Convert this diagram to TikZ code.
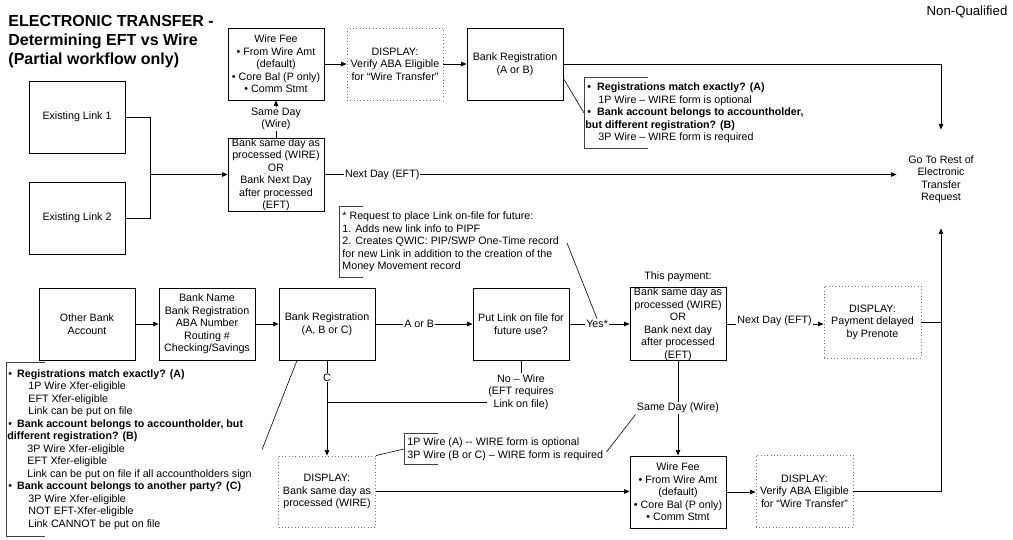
\documentclass[tikz,border=0pt]{standalone}
\usepackage{fontspec}
\setmainfont{Liberation Sans}
\usetikzlibrary{arrows.meta}
\newcommand\mybody{\fontsize{10.7}{12.5}\selectfont}
\begin{document}
\begin{tikzpicture}[x=1pt,y=-1pt,
  line width=0.85pt,
  >={Triangle[length=5.5pt,width=4.5pt]},
  box/.style={draw, line width=0.85pt, minimum width=96pt, minimum height=72pt, inner sep=0.5pt, align=center, font=\mybody},
  dbox/.style={box, draw=black!55, dash pattern=on 0.7pt off 2.6pt},
  lbl/.style={fill=white, inner sep=1pt, align=center, font=\mybody},
  note/.style={anchor=west, align=left, inner xsep=0pt, inner ysep=0pt, font=\mybody},
  brk/.style={draw=black!75, line width=0.9pt},
  call/.style={line width=0.6pt}
]
\useasboundingbox (0,0) rectangle (1013,540);

% titles
\node[anchor=north west, align=left, inner sep=0, font=\fontsize{16}{19}\selectfont\bfseries] (title) at (8,15) {ELECTRONIC TRANSFER -\\Determining EFT vs Wire\\(Partial workflow only)};
\node[font=\fontsize{13.2}{15}\selectfont, inner sep=0] (nq) at (967,12) {Non-Qualified};

% top part
\node[box] (link1) at (77,117) {Existing Link 1};
\node[box] (link2) at (77,218) {Existing Link 2};
\node[box, minimum height=73pt, inner sep=0pt] (bsd) at (276,174.5) {Bank same day as\\processed (WIRE)\\OR\\Bank Next Day\\after processed\\(EFT)};
\node[box] (wft) at (276,64) {Wire Fee\\• From Wire Amt\\(default)\\• Core Bal (P only)\\• Comm Stmt};
\node[dbox] (dvt) at (395,64) {DISPLAY:\\Verify ABA Eligible\\for “Wire Transfer”};
\node[box] (brt) at (515,64) {Bank Registration\\(A or B)};
\node[font=\mybody, align=center, minimum width=88pt, minimum height=98pt, inner sep=0] (goto) at (941,179) {Go To Rest of\\Electronic\\Transfer\\Request};

\node[note, minimum height=70pt] (n1) at (584,113) {%
\hspace*{3pt}•\hspace{6pt}\textbf{Registrations match exactly? (A)}\\
\hspace*{14pt}1P Wire – WIRE form is optional\\
\hspace*{3pt}•\hspace{6pt}\textbf{Bank account belongs to accountholder,}\\
\hspace*{1pt}\textbf{but different registration? (B)}\\
\hspace*{14pt}3P Wire – WIRE form is required};

% middle row
\node[box] (oba) at (87,324) {Other Bank\\Account};
\node[box] (bnm) at (207,324) {Bank Name\\Bank Registration\\ABA Number\\Routing \#\\Checking/Savings};
\node[box] (brg) at (327,324) {Bank Registration\\(A, B or C)};
\node[box] (put) at (521,324) {Put Link on file for\\future use?};
\node[box, inner sep=0pt] (tpy) at (678,324) {Bank same day as\\processed (WIRE)\\OR\\Bank next day\\after processed\\(EFT)};
\node[font=\mybody, inner sep=0] (tpl) at (678,277) {This payment:};
\node[dbox, minimum width=97pt] (dpr) at (872.5,322) {DISPLAY:\\Payment delayed\\by Prenote};

\node[note, inner xsep=3pt, minimum height=70pt] (n2) at (339,242) {* Request to place Link on-file for future:\\1. Adds new link info to PIPF\\2. Creates QWIC: PIP/SWP One-Time record\\for new Link in addition to the creation of the\\Money Movement record};
\coordinate (n2c) at (567,243);

% bottom row
\node[dbox, minimum width=97pt, minimum height=71pt] (dsb) at (327,491.5) {DISPLAY:\\Bank same day as\\processed (WIRE)};
\node[box] (wfb) at (678,492) {Wire Fee\\• From Wire Amt\\(default)\\• Core Bal (P only)\\• Comm Stmt};
\node[dbox, minimum width=97pt] (dvb) at (804.5,491) {DISPLAY:\\Verify ABA Eligible\\for “Wire Transfer”};
\node[note, inner xsep=3pt, minimum height=30pt] (n3) at (404,449) {1P Wire (A) -{}- WIRE form is optional\\3P Wire (B or C) – WIRE form is required};
\node[lbl, fill=none] (nw) at (521,392) {No – Wire\\(EFT requires\\Link on file)};
\coordinate (j2) at (327,402);

\node[note, minimum height=174pt, yshift=1.5pt] (n4) at (6,451) {%
\hspace*{2pt}•\hspace{5pt}\textbf{Registrations match exactly? (A)}\\
\hspace*{22pt}1P Wire Xfer-eligible\\
\hspace*{22pt}EFT Xfer-eligible\\
\hspace*{22pt}Link can be put on file\\
\hspace*{2pt}•\hspace{5pt}\textbf{Bank account belongs to accountholder, but}\\
\hspace*{1pt}\textbf{different registration? (B)}\\
\hspace*{21pt}3P Wire Xfer-eligible\\
\hspace*{21pt}EFT Xfer-eligible\\
\hspace*{21pt}Link can be put on file if all accountholders sign\\
\hspace*{2pt}•\hspace{5pt}\textbf{Bank account belongs to another party? (C)}\\
\hspace*{22pt}3P Wire Xfer-eligible\\
\hspace*{22pt}NOT EFT-Xfer-eligible\\
\hspace*{22pt}Link CANNOT be put on file};

% connectors top
\coordinate (j1) at (150,174.5);
\draw (link1.east) -| (j1);
\draw (link2.east) -| (j1);
\draw[->] (j1) -- (bsd.west);
\draw[->] (bsd.north) -- node[lbl]{Same Day\\(Wire)} (wft.south);
\draw[->] (wft.east) -- (dvt.west);
\draw[->] (dvt.east) -- (brt.west);
\draw[->] (brt.east) -| (goto.north);
\draw[->] (bsd.east) -- node[lbl,pos=0.101]{Next Day (EFT)} (bsd.east -| goto.west);
\draw[call] ([yshift=22pt]brt.south east) -- (n1.west);
\draw[brk] ([xshift=64pt]n1.north west) -- (n1.north west) -- (n1.south west) -- ([xshift=64pt]n1.south west);

% connectors middle
\draw[->] (oba.east) -- (bnm.west);
\draw[->] (bnm.east) -- (brg.west);
\draw[->] (brg.east) -- node[lbl,pos=0.45]{A or B} (put.west);
\draw[->] (put.east) -- node[lbl,pos=0.46] (yes) {Yes*} (tpy.west);
\draw[->] (tpy.east) -- node[lbl,pos=0.495,yshift=3pt]{Next Day (EFT)} (tpy.east -| dpr.west);
\draw (dpr.east) -- (dpr.east -| goto.south);
\draw[->] (dvb.east) -| (goto.south);
\draw[call] (n2c) -- (yes.north);
\draw[brk] ([xshift=24pt]n2.north west) -- (n2.north west) -- (n2.south west) -- ([xshift=24pt]n2.south west);

% connectors bottom
\draw[->] (brg.south) -- node[lbl,pos=0.18]{C} (dsb.north);
\draw (put.south) -- (nw.north);
\draw (nw.west |- j2) -- (j2);
\draw[->] (dsb.east) -- (dsb.east -| wfb.west);
\draw[->] (tpy.south) -- node[lbl] (sdw) {Same Day (Wire)} (wfb.north);
\draw[->] (wfb.east) -- (wfb.east -| dvb.west);
\draw[call] (n3.west) -- (dsb.north east);
\draw[call] ([yshift=-3pt]n3.east) -- (sdw.south west);
\draw[brk] ([xshift=34pt]n3.north west) -- (n3.north west) -- (n3.south west) -- ([xshift=34pt]n3.south west);
\draw[call] ([xshift=10pt]n4.east) -- ([xshift=-30pt]brg.south);
\draw[brk] ([xshift=39pt]n4.north west) -- (n4.north west) -- (n4.south west) -- ([xshift=39pt]n4.south west);
\end{tikzpicture}
\end{document}
